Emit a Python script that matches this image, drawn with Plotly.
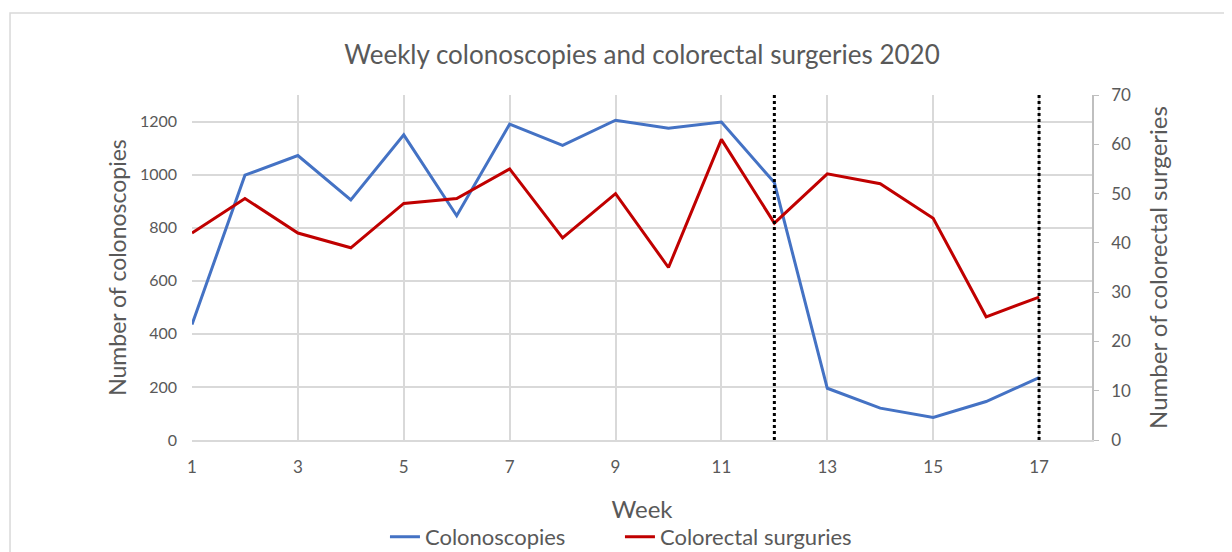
import plotly.graph_objects as go

weeks = list(range(1, 18))
colonoscopies = [435, 998, 1072, 905, 1150, 845, 1190, 1110, 1205, 1175, 1198, 970, 195, 120, 85, 145, 235]
surgeries = [42, 49, 42, 39, 48, 49, 55, 41, 50, 35, 61, 44, 54, 52, 45, 25, 29]
marker_weeks = [12, 17]
x_ticks = [1, 3, 5, 7, 9, 11, 13, 15, 17]

FONT = "Lato, Open Sans, sans-serif"
GRAY = "#595959"
GRID = "#d9d9d9"

fig = go.Figure()
fig.add_trace(go.Scatter(x=weeks, y=colonoscopies, name="Colonoscopies", mode="lines",
                         line=dict(color="#4472C4", width=3), yaxis="y", legend="legend"))
fig.add_trace(go.Scatter(x=weeks, y=surgeries, name="Colorectal surguries", mode="lines",
                         line=dict(color="#C00000", width=3), yaxis="y2", legend="legend2"))

for w in marker_weeks:
    fig.add_shape(type="line", xref="x", yref="paper", x0=w, x1=w, y0=0, y1=1,
                  line=dict(color="black", width=3, dash="dot"), layer="above")

# outer chart frame
fig.add_shape(type="rect", xref="paper", yref="paper", x0=-0.2022, x1=1.3, y0=-0.5, y1=1.2377,
              line=dict(color=GRID, width=1.5), fillcolor="rgba(0,0,0,0)", layer="below")

legend_common = dict(orientation="h", xanchor="left", y=-0.281, yanchor="middle",
                     font=dict(size=22, color=GRAY), bgcolor="rgba(0,0,0,0)")

fig.update_layout(
    width=1224, height=544,
    margin=dict(l=184, r=140, t=87, b=112, autoexpand=False),
    paper_bgcolor="white", plot_bgcolor="white",
    font=dict(family=FONT, color=GRAY, size=16),
    title=dict(text="Weekly colonoscopies and colorectal surgeries 2020", x=0.5, xref="paper",
               xanchor="center", y=1 - 47 / 544, yanchor="middle", automargin=False,
               font=dict(size=26, color=GRAY, family=FONT)),
    xaxis=dict(range=[1, 18], tickvals=x_ticks, showgrid=True, gridcolor=GRID, gridwidth=1.5,
               zeroline=False, showline=True, linecolor=GRID, linewidth=1.5, ticks="",
               ticklabelstandoff=11, automargin=False,
               title=dict(text="Week", font=dict(size=24, color=GRAY), standoff=25),
               tickfont=dict(size=17, color=GRAY)),
    yaxis=dict(range=[0, 1300], tickvals=[0, 200, 400, 600, 800, 1000, 1200], showgrid=True,
               gridcolor=GRID, gridwidth=1.5, zeroline=False, showline=False, ticks="",
               ticklabelstandoff=14, automargin=False,
               title=dict(text="Number of colonoscopies", font=dict(size=23, color=GRAY), standoff=6),
               tickfont=dict(size=16, color=GRAY)),
    yaxis2=dict(range=[0, 70], tickvals=[0, 10, 20, 30, 40, 50, 60, 70], overlaying="y", side="right",
                showgrid=False, zeroline=False, showline=True, linecolor="#bfbfbf", linewidth=1.5,
                ticks="outside", ticklen=5, tickcolor="#bfbfbf", automargin=False,
                ticklabelstandoff=9,
                title=dict(text="Number of colorectal surgeries", font=dict(size=24, color=GRAY), standoff=20),
                tickfont=dict(size=17, color=GRAY)),
    legend=dict(x=0.2144, **legend_common),
    legend2=dict(x=0.4755, **legend_common),
    showlegend=True,
)

fig.write_html("out.html")
